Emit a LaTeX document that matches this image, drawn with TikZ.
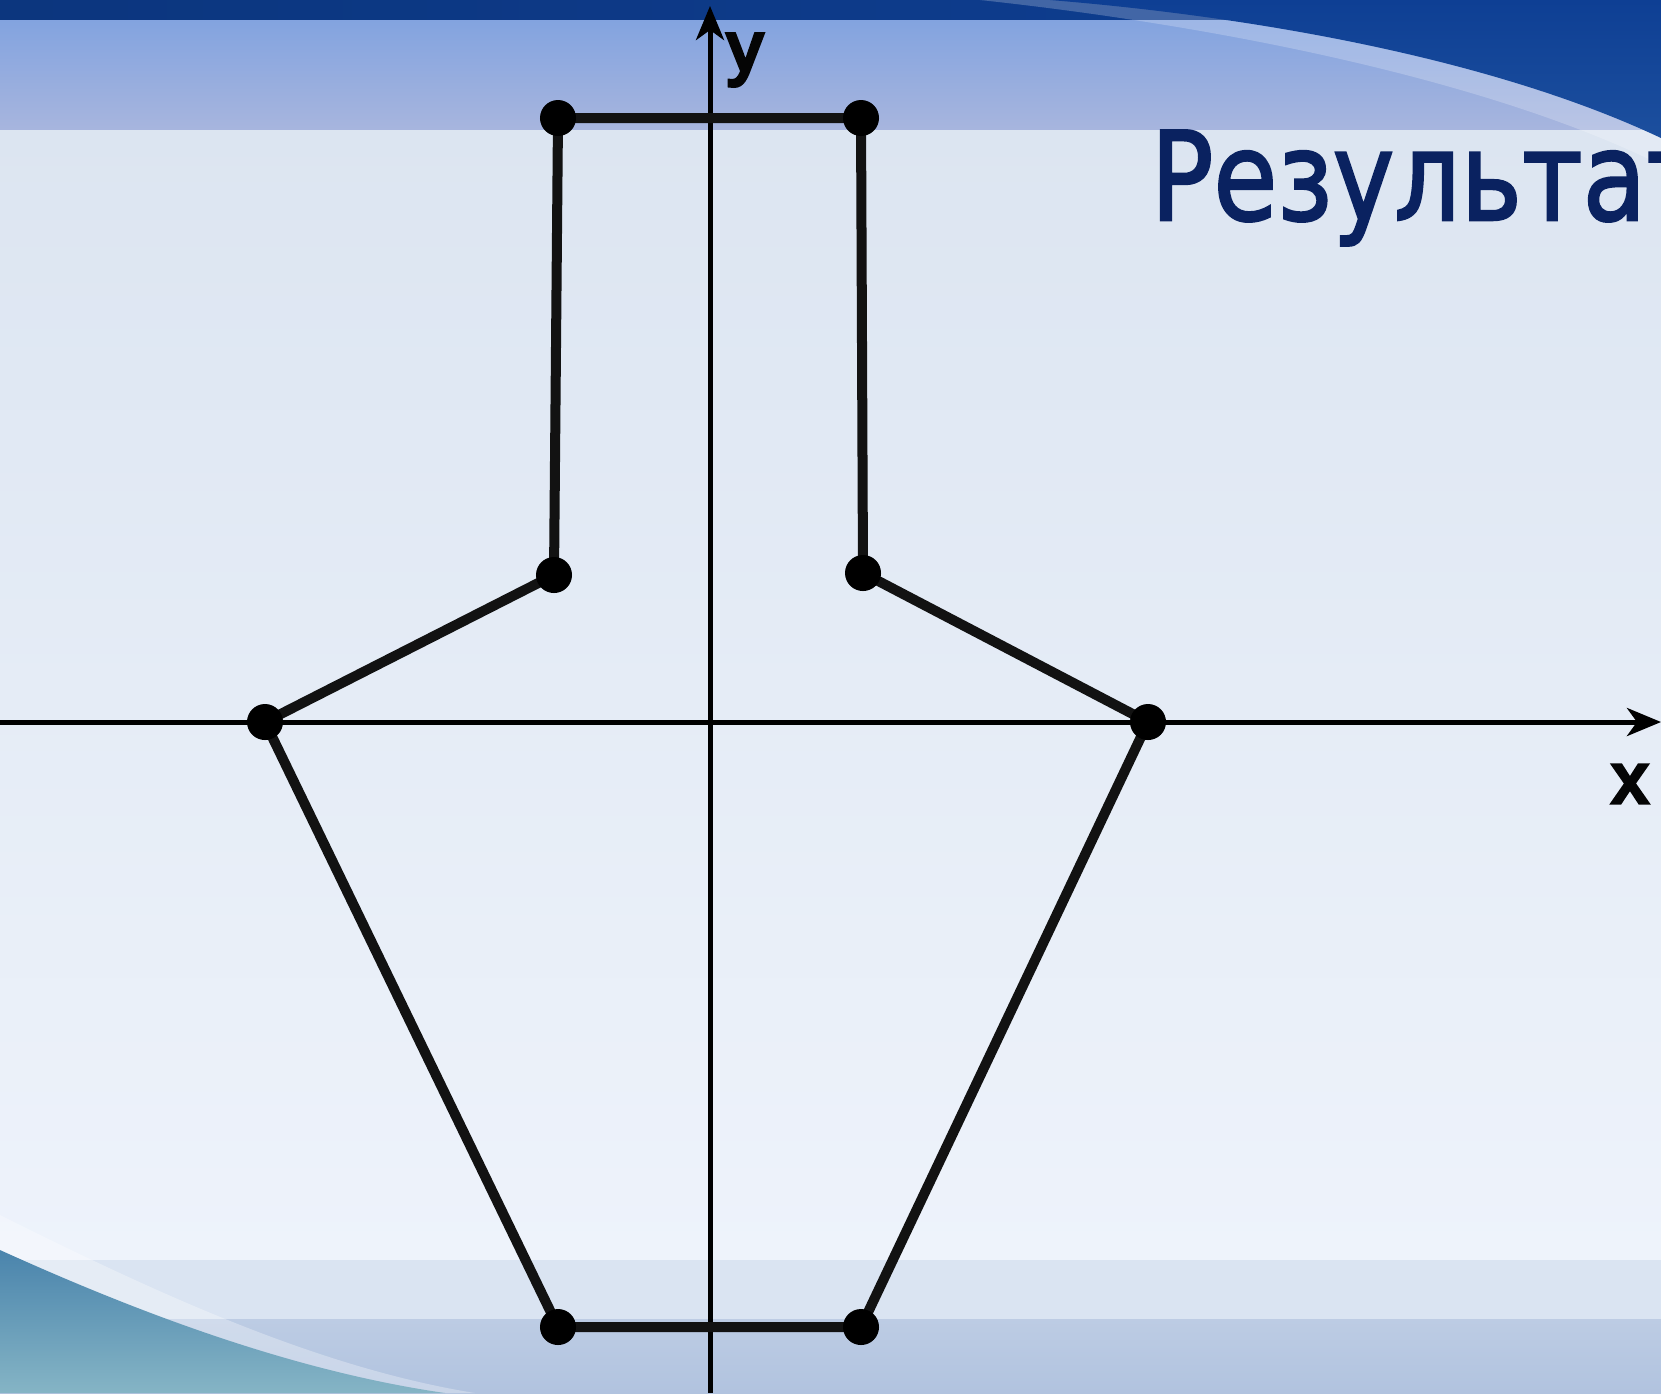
\documentclass[tikz,border=0pt]{standalone}
\usepackage{fontspec}
\setmainfont{Liberation Sans}
\newfontfamily\titlefont{DejaVu Sans}[FakeBold=2]
\newfontfamily\axisfont{Liberation Sans}
\usepackage{xcolor}
\usetikzlibrary{arrows.meta}

\definecolor{bandnavy}{HTML}{0E3F94}
\definecolor{bandtop}{HTML}{82A3DF}
\definecolor{bandbot}{HTML}{A7B5DE}
\definecolor{paletop}{HTML}{DCE5F1}
\definecolor{palemid}{HTML}{EAEFF8}
\definecolor{palebot}{HTML}{EEF3FB}
\definecolor{footlight}{HTML}{DAE4F2}
\definecolor{footdark}{HTML}{B1C3DF}
\definecolor{swooshdark}{HTML}{1C4F9E}
\definecolor{swooshteal}{HTML}{4A84AC}
\definecolor{titleblue}{HTML}{0A2260}
\definecolor{labelblack}{HTML}{050505}

\newcommand\heavyglyph[1]{\special{pdf:literal direct 2 Tr 1.2 w}#1\special{pdf:literal direct 0 Tr}}

\pgfdeclarelayer{bg}
\pgfdeclarelayer{fg}
\pgfsetlayers{bg,main,fg}

\begin{document}
\begin{tikzpicture}[
  x=0.01cm,y=-0.01cm,
  >={Stealth[length=3.4mm,width=2.8mm,inset=1mm]},
  vertex/.style={circle,fill=black,inner sep=0pt,minimum size=3.6mm},
  outline/.style={line width=0.1cm,draw=black!93},
  axis/.style={line width=0.05cm,->},
  axislabel/.style={text=labelblack,inner sep=0pt,
    font=\axisfont\fontsize{20}{24}\selectfont}
]
\useasboundingbox (0,0) rectangle (1661,1393);
\begin{pgfonlayer}{bg}
\clip (0,0) rectangle (1661,1393);
% background
\shade[top color=paletop,middle color=palemid,bottom color=palebot] (0,125) rectangle (1661,1262);
\fill[footlight] (0,1260) rectangle (1661,1319);
\shade[top color=footdark!85!white,bottom color=footdark] (0,1319) rectangle (1661,1393);
\shade[top color=bandtop,bottom color=bandbot] (0,18) rectangle (1661,129);
\shade[left color=bandnavy!85!black,right color=bandnavy] (0,0) rectangle (1661,19);
% swooshes
\fill[white,opacity=0.22] (980,0) .. controls (1240,28) and (1500,85) .. (1661,165) -- (1661,0) -- cycle;
\shade[top color=bandnavy,bottom color=swooshdark] (1050,0) .. controls (1270,18) and (1500,62) .. (1661,138) -- (1661,0) -- cycle;
\fill[white,opacity=0.3] (0,1215) .. controls (160,1295) and (320,1368) .. (475,1393) -- (0,1393) -- cycle;
\shade[top color=swooshteal,bottom color=swooshteal!70!teal!60!white] (0,1250) .. controls (150,1318) and (300,1372) .. (445,1393) -- (0,1393) -- cycle;
\node[anchor=base west,text=titleblue,inner sep=0pt,
      font=\titlefont\fontsize{35}{40}\selectfont] (title) at (1150,220) {\scalebox{0.845}[1]{Результат}};
\end{pgfonlayer}

\coordinate (xstart) at (0,722);
\coordinate (xend) at (1661,722);
\coordinate (ystart) at (710,1393);
\coordinate (yend) at (710,6);
\draw[axis] (xstart) -- (xend);
\draw[axis] (ystart) -- (yend);
\node[axislabel] (xlabel) at (1630,784) {\heavyglyph{x}};
\node[axislabel] (ylabel) at (745,60) {\heavyglyph{y}};

\begin{pgfonlayer}{fg}
\node[vertex] (a) at (558,118) {};
\node[vertex] (b) at (861,118) {};
\node[vertex] (c) at (554,575) {};
\node[vertex] (d) at (863,573) {};
\node[vertex] (e) at (265,722) {};
\node[vertex] (f) at (1148,722) {};
\node[vertex] (g) at (558,1327) {};
\node[vertex] (h) at (861,1327) {};
\end{pgfonlayer}

\draw[outline] (a.center) -- (b.center) (a.center) -- (c.center)
  (c.center) -- (e.center) (e.center) -- (g.center)
  (g.center) -- (h.center) (h.center) -- (f.center)
  (f.center) -- (d.center) (d.center) -- (b.center);
\end{tikzpicture}
\end{document}
